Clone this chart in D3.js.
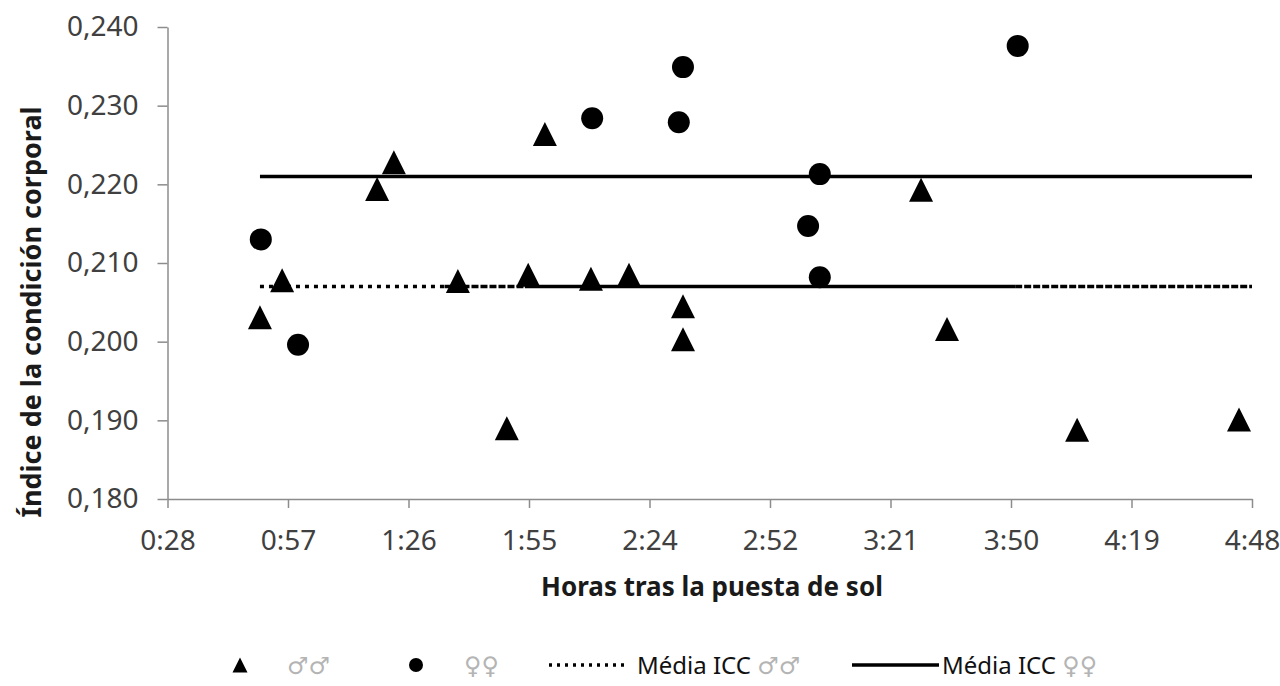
<!DOCTYPE html>
<html>
<head>
<meta charset="utf-8">
<script src="https://cdn.jsdelivr.net/npm/d3@7"></script>
<style>
  body { margin: 0; background: #fff; }
  svg text { font-family: "Noto Sans", sans-serif; }
</style>
</head>
<body>
<div id="chart"></div>
<script>
// time after sunset in minutes, body condition index
const maleTime = [50.9, 56.2, 78.9, 82.9, 98.2, 109.9, 115.0, 119.0, 130.0, 139.1, 152.0, 152.0, 208.9, 215.1, 246.2, 284.9];
const maleICC = [0.2031, 0.2078, 0.2194, 0.2228, 0.2077, 0.1890, 0.2085, 0.2264, 0.2080, 0.2085, 0.2045, 0.2003, 0.2193, 0.2016, 0.1888, 0.1901];
const femaleTime = [51.1, 60.0, 130.3, 151.0, 152.0, 181.9, 184.7, 184.7, 232.0];
const femaleICC = [0.2130, 0.1996, 0.2284, 0.2279, 0.2349, 0.2147, 0.2213, 0.2082, 0.2376];
const maleMean = 0.2070;
const femaleMean = 0.2210;
const meanStart = 50.9;
const meanEnd = 288;
// the male mean line is drawn with overlapping pieces in the original
const maleMeanPieces = [[50.9, 95.0, "dot"], [95.0, 114.2, "dash"], [114.2, 231.4, "solid"], [231.4, 288, "dash"]];

const xTickValues = [28.8, 57.6, 86.4, 115.2, 144, 172.8, 201.6, 230.4, 259.2, 288];
const xTickLabels = ["0:28", "0:57", "1:26", "1:55", "2:24", "2:52", "3:21", "3:50", "4:19", "4:48"];
const yTickValues = [0.18, 0.19, 0.20, 0.21, 0.22, 0.23, 0.24];

const W = 1280, H = 686;
const svg = d3.select("#chart").append("svg")
    .attr("width", W)
    .attr("height", H);

const x = d3.scaleLinear().domain([28.8, 288]).range([167.5, 1252]);
const y = d3.scaleLinear().domain([0.18, 0.24]).range([499, 27]);

const axisColor = "#8c8c8c";
const labelColor = "#404040";

// X axis
const xAxis = svg.append("g")
    .attr("transform", `translate(0,${y(0.18)})`)
    .call(d3.axisBottom(x)
        .tickValues(xTickValues)
        .tickSize(9)
        .tickSizeOuter(0)
        .tickFormat((d, i) => xTickLabels[i]));
xAxis.select(".domain").attr("stroke", axisColor).attr("stroke-width", 1.5);
xAxis.selectAll(".tick line").attr("stroke", axisColor).attr("stroke-width", 1.5);
xAxis.selectAll(".tick text")
    .attr("y", 31)
    .attr("fill", labelColor)
    .style("font-size", "28px")
    .style("font-family", "Noto Sans");

// Y axis
const yAxis = svg.append("g")
    .attr("transform", `translate(${x(28.8)},0)`)
    .call(d3.axisLeft(y)
        .tickValues(yTickValues)
        .tickSize(10)
        .tickSizeOuter(0)
        .tickFormat(d => d3.format(".3f")(d).replace(".", ",")));
yAxis.select(".domain").attr("stroke", axisColor).attr("stroke-width", 1.5);
yAxis.selectAll(".tick line").attr("stroke", axisColor).attr("stroke-width", 1.5);
yAxis.selectAll(".tick text")
    .attr("x", -29)
    .attr("fill", labelColor)
    .style("font-size", "28px")
    .style("font-family", "Noto Sans");

// Axis titles
svg.append("text")
    .attr("x", 712)
    .attr("y", 596)
    .attr("text-anchor", "middle")
    .style("font-size", "26px")
    .style("font-weight", "bold")
    .attr("fill", "#1a1a1a")
    .text("Horas tras la puesta de sol");

svg.append("text")
    .attr("transform", "rotate(-90)")
    .attr("x", -312)
    .attr("y", 41)
    .attr("text-anchor", "middle")
    .style("font-size", "27px")
    .style("font-weight", "bold")
    .attr("fill", "#1a1a1a")
    .text("Índice de la condición corporal");

// Mean lines
svg.append("line")
    .attr("x1", x(meanStart)).attr("x2", x(meanEnd))
    .attr("y1", y(femaleMean)).attr("y2", y(femaleMean))
    .attr("stroke", "#000")
    .attr("stroke-width", 3.5);

const dashFor = { dot: "4,5", dash: "7,2", solid: null };
svg.selectAll(".male-mean")
    .data(maleMeanPieces)
    .enter()
    .append("line")
    .attr("class", "male-mean")
    .attr("x1", d => x(d[0])).attr("x2", d => x(d[1]))
    .attr("y1", y(maleMean)).attr("y2", y(maleMean))
    .attr("stroke", "#000")
    .attr("stroke-width", 3.5)
    .attr("stroke-dasharray", d => dashFor[d[2]]);

// triangle path centred on 0,0
function tri(w, h) {
    return `M0,${-h / 2}L${w / 2},${h / 2}L${-w / 2},${h / 2}Z`;
}

// Points
svg.selectAll(".male")
    .data(maleTime.map((t, i) => [t, maleICC[i]]))
    .enter()
    .append("path")
    .attr("class", "male")
    .attr("d", tri(24, 24))
    .attr("transform", d => `translate(${x(d[0])},${y(d[1])})`)
    .attr("fill", "#000");

svg.selectAll(".female")
    .data(femaleTime.map((t, i) => [t, femaleICC[i]]))
    .enter()
    .append("circle")
    .attr("class", "female")
    .attr("cx", d => x(d[0]))
    .attr("cy", d => y(d[1]))
    .attr("r", 11)
    .attr("fill", "#000");

// Legend
const ly = 665;
const legend = svg.append("g");
legend.append("path")
    .attr("d", tri(15, 15))
    .attr("transform", `translate(240,${ly})`)
    .attr("fill", "#000");
legend.append("text")
    .attr("x", 287).attr("y", ly + 9)
    .attr("fill", "#b4b4b4")
    .style("font-size", "24px")
    .style("font-family", "DejaVu Sans")
    .text("♂♂");
legend.append("circle")
    .attr("cx", 416).attr("cy", ly)
    .attr("r", 7)
    .attr("fill", "#000");
legend.append("text")
    .attr("x", 464).attr("y", ly + 9)
    .attr("fill", "#b4b4b4")
    .style("font-size", "24px")
    .style("font-family", "DejaVu Sans")
    .text("♀♀");
legend.append("line")
    .attr("x1", 549).attr("x2", 624)
    .attr("y1", ly).attr("y2", ly)
    .attr("stroke", "#000")
    .attr("stroke-width", 3.5)
    .attr("stroke-dasharray", "3,5");
const t1 = legend.append("text")
    .attr("x", 637).attr("y", ly + 9)
    .attr("fill", "#111")
    .style("font-size", "24px");
t1.append("tspan").text("Média ICC ");
t1.append("tspan").attr("fill", "#b4b4b4").style("font-family", "DejaVu Sans").text("♂♂");
legend.append("line")
    .attr("x1", 852).attr("x2", 939)
    .attr("y1", ly).attr("y2", ly)
    .attr("stroke", "#000")
    .attr("stroke-width", 3.5);
const t2 = legend.append("text")
    .attr("x", 942).attr("y", ly + 9)
    .attr("fill", "#111")
    .style("font-size", "24px");
t2.append("tspan").text("Média ICC ");
t2.append("tspan").attr("fill", "#b4b4b4").style("font-family", "DejaVu Sans").text("♀♀");
</script>
</body>
</html>
